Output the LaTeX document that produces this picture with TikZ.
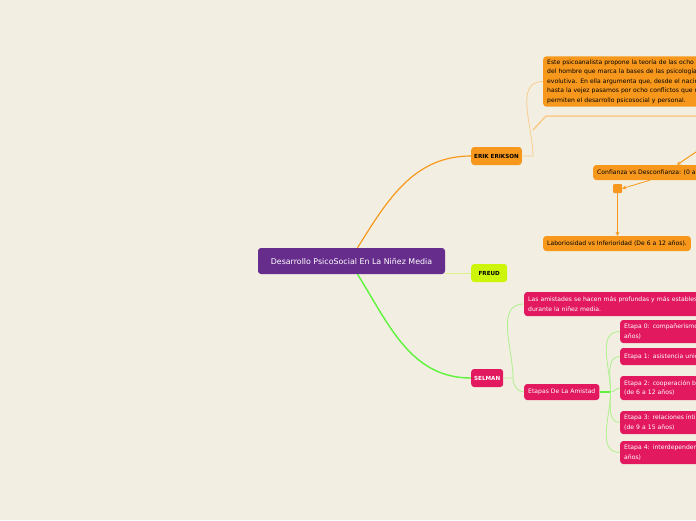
\documentclass[tikz,border=0pt]{standalone}
\usepackage{fontspec}
\setmainfont{DejaVu Sans}
\usepackage{tikz}
\usetikzlibrary{arrows.meta, positioning}

\definecolor{bgmap}{HTML}{F2EFE2}
\definecolor{ornge}{HTML}{F7981D}
\definecolor{palorange}{HTML}{F9CC8E}
\definecolor{prpl}{HTML}{662D8C}
\definecolor{pnk}{HTML}{E2195E}
\definecolor{lime}{HTML}{CCF50A}
\definecolor{grn}{HTML}{5EF33A}
\definecolor{palgreen}{HTML}{AEF08E}
\definecolor{pallime}{HTML}{DDF08A}

\begin{document}
\begin{tikzpicture}[
  x=1pt, y=-1pt,
  root/.style={fill=prpl, text=white, rounded corners=3pt, minimum width=187pt,
               minimum height=26pt, font=\fontsize{7.9}{10}\selectfont},
  topic/.style={rounded corners=3pt, minimum height=18pt, inner xsep=3pt,
                font=\fontsize{5.6}{8}\selectfont\bfseries},
  sub/.style={rounded corners=3pt, anchor=west, align=left, inner xsep=4pt,
              inner ysep=3pt, font=\fontsize{6.1}{9.5}\selectfont},
  ebox/.style={sub, fill=ornge, text=black},
  sbox/.style={sub, fill=pnk, text=white},
  arr/.style={-{Stealth[length=4pt, width=4pt]}, ornge, line width=1pt},
  link/.style={line width=0.8pt}
]
\fill[bgmap] (0,0) rectangle (696,520);
\useasboundingbox (0,0) rectangle (696,520);
\clip (0,0) rectangle (696,520);

% central idea
\node[root] (root) at (351.5,261) {Desarrollo PsicoSocial En La Niñez Media};

% main topics
\node[topic, fill=ornge, anchor=west, minimum width=50pt] (erik) at (471,156) {ERIK ERIKSON};
\node[topic, fill=lime, anchor=west, minimum width=36pt] (freud) at (471,273) {FREUD};
\node[topic, fill=pnk, text=white, anchor=west, minimum width=31pt] (selman) at (471,378) {SELMAN};

% Erikson
\node[ebox, text width=260pt, minimum height=49pt] (desc) at (543,81.5)
  {Este psicoanalista propone la teoría de las ocho etapas\\
   del hombre que marca la bases de las psicología evolutiva\\
   evolutiva. En ella argumenta que, desde el nacimiento\\
   hasta la vejez pasamos por ocho conflictos que nos\\
   permiten el desarrollo psicosocial y personal.};
\node[ebox, minimum height=15pt, inner ysep=2pt] (confi) at (593,172.5)
  {Confianza vs Desconfianza: (0 a 1 año)};
\node[fill=ornge, rounded corners=1pt, minimum size=9pt, inner sep=0pt] (sq) at (617.5,188.5) {};
\node[ebox, minimum height=15pt, inner ysep=2pt] (labor) at (543,243.5)
  {Laboriosidad vs Inferioridad (De 6 a 12 años).};

% Selman
\node[sbox, text width=260pt, minimum height=24pt] (amist) at (524,304)
  {Las amistades se hacen más profundas y más estables\\durante la niñez media.};
\node[sbox, minimum height=16pt, inner ysep=2pt] (etapas) at (524,392) {Etapas De La Amistad};
\node[sbox, text width=220pt, minimum height=23pt] (e0) at (620,331.5)
  {Etapa 0: compañerismo momentáneo (de 3 a 7\\años)};
\node[sbox, text width=220pt, minimum height=17pt] (e1) at (620,356.5)
  {Etapa 1: asistencia unidireccional (de 4 a 9 años)};
\node[sbox, text width=220pt, minimum height=24pt] (e2) at (620,388)
  {Etapa 2: cooperación bidireccional\\(de 6 a 12 años)};
\node[sbox, text width=220pt, minimum height=23pt] (e3) at (620,422.5)
  {Etapa 3: relaciones íntimas compartidas\\(de 9 a 15 años)};
\node[sbox, text width=220pt, minimum height=23pt] (e4) at (620,452.5)
  {Etapa 4: interdependencia autónoma (desde los 12\\años)};

% connectors from the root
\draw[ornge, line width=1.2pt] ([xshift=6pt]root.north) to[out=58, in=180] (erik.west);
\draw[pallime, line width=1pt] (root.east |- freud.west) -- (freud.west);
\draw[grn, line width=1.4pt] ([xshift=6pt]root.south) to[out=-58, in=180] (selman.west);

% Erikson branches
\coordinate (ek) at (533,156);
\coordinate (ekb) at (533,130);
\coordinate (offtop) at (720,116);
\coordinate (offconf) at (730,129);
\draw[palorange, link] (erik.east) -- (ek) to[out=90, in=180] (desc.west);
\draw[palorange, line width=1.5pt] (ekb) -- ++(13,-14) -- (offtop);
\draw[arr] (offconf) -- ([xshift=84pt]confi.north west);
\draw[arr, line width=0.8pt] ([xshift=57pt]confi.south west) -- (sq.east);
\draw[arr, line width=0.6pt] (sq.south) -- (sq.south |- labor.north);

% Selman branches
\coordinate (sk) at (513,378);
\draw[palgreen, link] (selman.east) -- (sk) to[out=90, in=180] (amist.west);
\draw[palgreen, link] (sk) to[out=-90, in=180] (etapas.west);
\draw[grn, line width=1.4pt] (etapas.east) -- ++(11,0) coordinate (tk);
\draw[palgreen, link] (tk) to[out=90, in=180] (e0.west);
\draw[palgreen, link] (tk) to[out=90, in=180] (e1.west);
\draw[palgreen, link] (tk) to[out=0, in=180] (e2.west);
\draw[palgreen, link] (tk) to[out=-90, in=180] (e3.west);
\draw[palgreen, link] (tk) to[out=-90, in=180] (e4.west);
\end{tikzpicture}
\end{document}
